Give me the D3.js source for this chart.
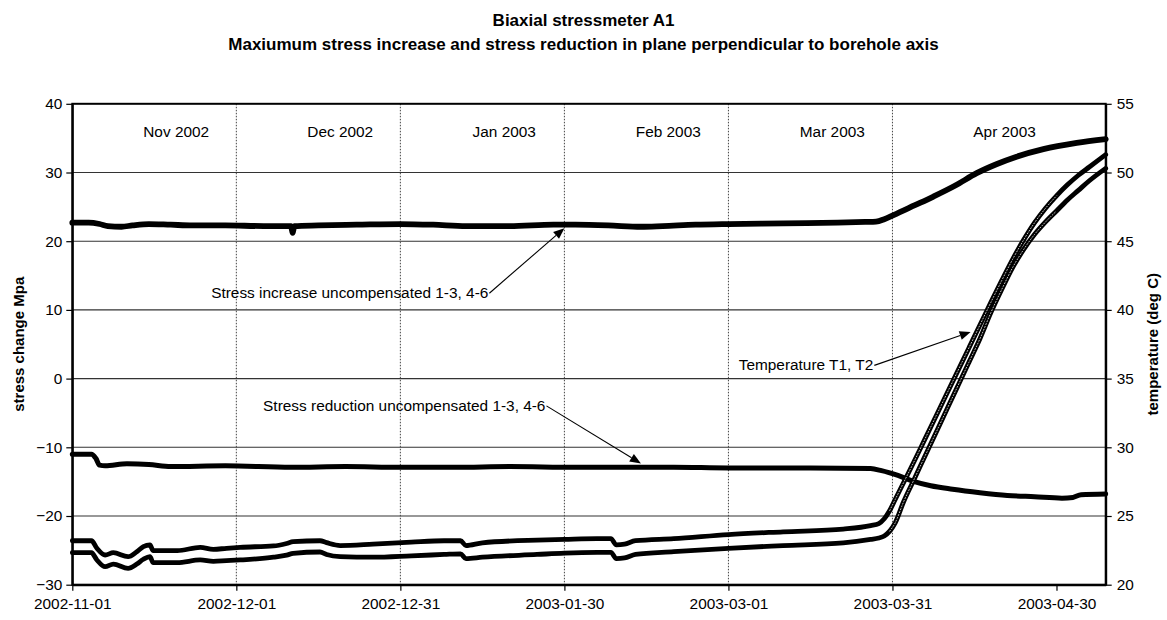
<!DOCTYPE html>
<html>
<head>
<meta charset="utf-8">
<script src="https://cdn.jsdelivr.net/npm/d3@7"></script>
<style>
  body { margin: 0; background: #fff; }
  text { font-family: "Liberation Sans", Arial, sans-serif; fill: #000; }
</style>
</head>
<body>
<svg id="chart" width="1167" height="620"></svg>
<script>
// ---- data: elapsed days since the start date, and readings ----
const startDate = "2002-11-01";
const endDate = "2003-05-09";
const xTickDates = ["2002-11-01", "2002-12-01", "2002-12-31", "2003-01-30", "2003-03-01", "2003-03-31", "2003-04-30"];
const monthLabels = ["Nov 2002", "Dec 2002", "Jan 2003", "Feb 2003", "Mar 2003", "Apr 2003"];
const stressTicks = [-30, -20, -10, 0, 10, 20, 30, 40];
const tempTicks = [20, 25, 30, 35, 40, 45, 50, 55];

// Stress increase uncompensated 1-3, 4-6 (MPa)
const increaseDays = [0, 3, 5, 6.5, 9, 11, 14, 18, 22, 28, 35, 40, 40.3, 40.6, 45, 52, 60, 66, 72, 80,
  88, 92, 98, 104, 108, 114, 120, 130, 140, 145, 147, 148.5, 150.2, 154, 157.5, 161.5, 165.4, 169, 172.7, 177.6,
  183.7, 189];
const increaseMpa = [22.7, 22.7, 22.5, 22.2, 22.1, 22.3, 22.5, 22.4, 22.3, 22.3, 22.2, 22.2, 21.2, 22.2, 22.3, 22.4, 22.5, 22.4, 22.2, 22.2,
  22.4, 22.4, 22.3, 22.1, 22.2, 22.4, 22.5, 22.6, 22.7, 22.8, 22.85, 23.2, 23.8, 25.2, 26.5, 28.1, 29.9, 31.2, 32.3, 33.4,
  34.3, 34.85];

// Stress reduction uncompensated 1-3, 4-6 (MPa)
const reductionDays = [0, 3.5, 4.3, 5, 6, 10, 14, 18, 28, 40, 50, 60, 70, 80, 92, 100, 110, 120, 135, 146,
  148, 151, 154, 157, 161, 166, 171, 176, 181, 183, 184.5, 189];
const reductionMpa = [-11.0, -11.0, -11.6, -12.6, -12.7, -12.4, -12.5, -12.8, -12.7, -12.9, -12.8, -12.9, -12.9, -12.8, -12.9, -12.9, -12.9, -13.0, -13.0, -13.1,
  -13.4, -14.1, -15.0, -15.6, -16.1, -16.6, -17.0, -17.2, -17.4, -17.3, -16.9, -16.8];

// Temperatures T1, T2 (deg C)
const tempDays = [0, 3.5, 4.5, 6, 7.5, 10.2, 11.8, 13, 14.2, 14.8, 19.2, 23.4, 25.8, 28.2, 30.7, 36.8, 39.2, 40.4, 45.3, 46.5,
  49, 55, 62, 68, 71, 72, 75, 85, 90, 96, 98.5, 99.5, 101, 103, 110, 120, 130, 141, 146, 147.5,
  148.5, 149.5, 150.5, 152, 154, 156, 158, 160, 162, 164, 166, 168, 170, 172, 174, 176, 178, 180, 182, 184,
  186, 189];
const t1Deg = [23.2, 23.2, 22.65, 22.16, 22.33, 22.04, 22.4, 22.77, 22.89, 22.48, 22.48, 22.72, 22.57, 22.65, 22.72, 22.82, 23.0, 23.13, 23.2, 23.06,
  22.85, 22.95, 23.1, 23.2, 23.2, 22.85, 23.05, 23.25, 23.3, 23.35, 23.35, 22.9, 22.95, 23.2, 23.35, 23.65, 23.85, 24.05, 24.3, 24.45,
  24.8, 25.4, 26.2, 27.4, 29.0, 30.65, 32.3, 33.95, 35.6, 37.25, 38.9, 40.55, 42.15, 43.7, 45.1, 46.35, 47.4, 48.3, 49.1, 49.8,
  50.4, 51.3];
const t2Deg = [22.33, 22.33, 21.8, 21.31, 21.5, 21.19, 21.5, 21.85, 22.04, 21.6, 21.6, 21.8, 21.7, 21.75, 21.8, 22.0, 22.15, 22.28, 22.38, 22.2,
  22.04, 22.0, 22.1, 22.2, 22.25, 21.9, 22.0, 22.2, 22.3, 22.35, 22.35, 21.9, 21.95, 22.2, 22.4, 22.65, 22.85, 23.05, 23.3, 23.4,
  23.55, 23.9, 24.5, 26.0, 27.7, 29.4, 31.1, 32.8, 34.5, 36.2, 37.9, 39.8, 41.5, 43.1, 44.4, 45.5, 46.4, 47.2, 48.0, 48.7,
  49.4, 50.3];

// ---- layout ----
const W = 1167, H = 620;
const m = { top: 103.8, right: 61.3, bottom: 35.3, left: 72.3 };
const svg = d3.select("#chart");

const parse = d3.utcParse("%Y-%m-%d");
const t0 = parse(startDate);
const dayToDate = d => new Date(t0.getTime() + d * 864e5);

const x = d3.scaleUtc().domain([t0, parse(endDate)]).range([m.left, W - m.right]);
const yL = d3.scaleLinear().domain([-30, 40]).range([H - m.bottom, m.top]);
const yR = d3.scaleLinear().domain([20, 55]).range([H - m.bottom, m.top]);

const zip = (days, vals) => days.map((d, i) => ({ date: dayToDate(d), day: d, v: vals[i] }));
const increase = zip(increaseDays, increaseMpa);
const reduction = zip(reductionDays, reductionMpa);
const t1 = zip(tempDays, t1Deg);
const t2 = zip(tempDays, t2Deg);

// ---- titles ----
const title = svg.append("g").attr("text-anchor", "middle").style("font-weight", "bold").style("font-size", "17px");
title.append("text").attr("x", W / 2).attr("y", 26).text("Biaxial stressmeter A1");
title.append("text").attr("x", W / 2).attr("y", 50)
  .text("Maxiumum stress increase and stress reduction in plane perpendicular to borehole axis");

// ---- grid ----
svg.append("g").selectAll("line").data(stressTicks.filter(v => v > -30 && v < 40)).join("line")
  .attr("x1", m.left).attr("x2", W - m.right)
  .attr("y1", d => yL(d)).attr("y2", d => yL(d))
  .attr("stroke", "#333").attr("stroke-width", 1.1);

// month separators (dotted) at the interior date ticks
const separators = xTickDates.slice(1, monthLabels.length).map(parse);
svg.append("g").selectAll("line").data(separators).join("line")
  .attr("x1", d => x(d)).attr("x2", d => x(d))
  .attr("y1", m.top).attr("y2", H - m.bottom)
  .attr("stroke", "#444").attr("stroke-width", 1).attr("stroke-dasharray", "1.5,1.5");

// month labels inside the plot
svg.append("g").selectAll("text").data(monthLabels).join("text")
  .attr("x", (d, i) => x(new Date(parse(xTickDates[i]).getTime() + (i < monthLabels.length - 1 ? 19 : 20.5) * 864e5)))
  .attr("y", 136.5)
  .attr("text-anchor", "middle")
  .style("font-size", "15.4px")
  .text(d => d);

// ---- series ----
const lineL = d3.line().x(d => x(d.date)).y(d => yL(d.v)).curve(d3.curveMonotoneX);
const lineR = d3.line().x(d => x(d.date)).y(d => yR(d.v)).curve(d3.curveMonotoneX);

const series = svg.append("g").attr("fill", "none").attr("stroke", "#000")
  .attr("stroke-linejoin", "round").attr("stroke-linecap", "round");
series.append("path").datum(increase).attr("d", lineL).attr("stroke-width", 5.8);
series.append("path").datum(reduction).attr("d", lineL).attr("stroke-width", 5);
series.append("path").datum(t2).attr("d", lineR).attr("stroke-width", 4.8);
series.append("path").datum(t1).attr("d", lineR).attr("stroke-width", 4.8);

// hollow marker texture along the steep temperature rise
const steep = d => d.day >= 149 && d.day <= 180;
[t1, t2].forEach(s => {
  series.append("path").datum(s.filter(steep)).attr("d", lineR)
    .attr("stroke", "#fff").attr("stroke-opacity", 0.85)
    .attr("stroke-width", 0.9).attr("stroke-dasharray", "1,2");
});

// ---- frame and axes ----
svg.append("rect")
  .attr("x", m.left).attr("y", m.top)
  .attr("width", W - m.left - m.right).attr("height", H - m.top - m.bottom)
  .attr("fill", "none").attr("stroke", "#000").attr("stroke-width", 2);

function styleAxis(g) {
  g.select(".domain").attr("stroke-width", 2);
  g.selectAll(".tick line").attr("stroke-width", 1.2);
  g.selectAll(".tick text").style("font-size", "15.4px").attr("fill", "#000")
    .style("font-family", '"Liberation Sans", Arial, sans-serif');
}

svg.append("g").attr("transform", `translate(${m.left},0)`)
  .call(d3.axisLeft(yL).tickValues(stressTicks).tickSize(6).tickSizeOuter(0).tickPadding(4))
  .call(styleAxis);

svg.append("g").attr("transform", `translate(${W - m.right},0)`)
  .call(d3.axisRight(yR).tickValues(tempTicks).tickSize(6).tickSizeOuter(0).tickPadding(5))
  .call(styleAxis);

svg.append("g").attr("transform", `translate(0,${H - m.bottom})`)
  .call(d3.axisBottom(x).tickValues(xTickDates.map(parse)).tickFormat(d3.utcFormat("%Y-%m-%d"))
    .tickSize(6).tickSizeOuter(0).tickPadding(7))
  .call(styleAxis);

// axis titles
const midY = (m.top + H - m.bottom) / 2;
svg.append("text").attr("transform", `translate(18,${midY}) rotate(-90)`)
  .attr("text-anchor", "middle").attr("dominant-baseline", "central")
  .style("font-weight", "bold").style("font-size", "15px")
  .text("stress change Mpa");
svg.append("text").attr("transform", `translate(1152,${midY}) rotate(-90)`)
  .attr("text-anchor", "middle").attr("dominant-baseline", "central")
  .style("font-weight", "bold").style("font-size", "15px")
  .text("temperature (deg C)");

// ---- annotations with arrows ----
function annotate(label, labelDay, labelY, anchor, tipDay, tipY) {
  const tx = x(dayToDate(labelDay)), ty = labelY;
  const t = svg.append("text").attr("x", tx).attr("y", ty)
    .attr("text-anchor", anchor).style("font-size", "15.4px").text(label);
  const len = t.node().getComputedTextLength();
  const sx = anchor === "end" ? tx + 1 : tx + len + 1;
  const sy = ty - 5;
  const ex = x(dayToDate(tipDay)), ey = tipY;
  const ang = Math.atan2(ey - sy, ex - sx);
  const hl = 11, hw = 4.5;
  const bx = ex - hl * Math.cos(ang), by = ey - hl * Math.sin(ang);
  svg.append("line").attr("x1", sx).attr("y1", sy).attr("x2", bx).attr("y2", by)
    .attr("stroke", "#000").attr("stroke-width", 1.1);
  svg.append("polygon")
    .attr("points", [
      [ex, ey],
      [bx + hw * Math.sin(ang), by - hw * Math.cos(ang)],
      [bx - hw * Math.sin(ang), by + hw * Math.cos(ang)]
    ].map(p => p.join(",")).join(" "))
    .attr("fill", "#000");
}

annotate("Stress increase uncompensated 1-3, 4-6", 25.4, yL(11.7), "start", 90, yL(21.9));
annotate("Stress reduction uncompensated 1-3, 4-6", 34.9, yL(-4.7), "start", 104, yL(-12.35));
annotate("Temperature T1, T2", 146.5, yR(35.6), "end", 164.3, yR(38.4));
</script>
</body>
</html>
